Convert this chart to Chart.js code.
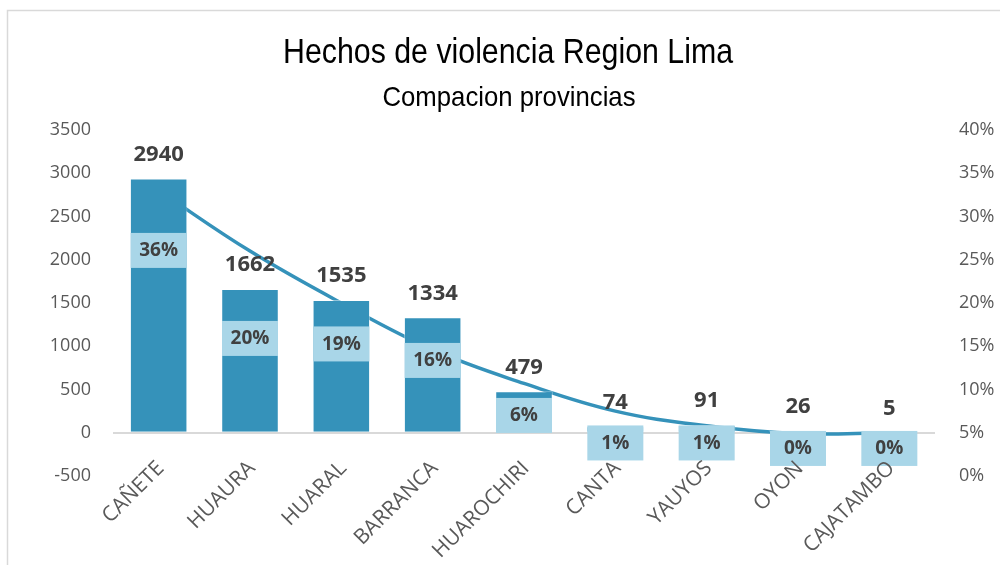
<!DOCTYPE html>
<html lang="es">
<head>
  <meta charset="UTF-8" />
  <title>Hechos de violencia Region Lima</title>
  <script src="https://cdn.jsdelivr.net/npm/chart.js"></script>
  <style>
    body { margin: 0; background: #fff; }
    canvas { display: block; }
  </style>
</head>
<body>
  <canvas id="chart" width="1000" height="565"></canvas>

  <script>
    // data
    const provincias = ['CAÑETE', 'HUAURA', 'HUARAL', 'BARRANCA', 'HUAROCHIRI', 'CANTA', 'YAUYOS', 'OYON', 'CAJATAMBO'];
    const hechos = [2940, 1662, 1535, 1334, 479, 74, 91, 26, 5];
    const porcentaje = [36, 20, 19, 16, 6, 1, 1, 0, 0];
    const tendencia = [33, 26, 20, 14.6, 10.7, 7.5, 5.8, 4.9, 5.0];

    const titulo = 'Hechos de violencia Region Lima';
    const subtitulo = 'Compacion provincias';

    const azul = '#3592ba';
    const celeste = '#a9d6e8';
    const texto = '#404040';
    const gris = '#595959';
    const font = '"Open Sans", "DejaVu Sans", sans-serif';

    // narrow-looking title: Liberation Sans squeezed to the reference width
    function narrowText(ctx, str, cx, cy, size, width) {
      ctx.font = size + 'px "Liberation Sans", Arial, sans-serif';
      const w = ctx.measureText(str).width;
      ctx.save();
      ctx.translate(cx, cy);
      ctx.scale(width / w, 1);
      ctx.fillText(str, 0, 0);
      ctx.restore();
    }

    const drawExtras = {
      id: 'drawExtras',
      beforeDraw(chart) {
        const ctx = chart.ctx;
        ctx.save();
        ctx.strokeStyle = '#d9d9d9';
        ctx.lineWidth = 1.5;
        ctx.strokeRect(7.5, 10.5, 1100, 700);
        ctx.fillStyle = '#000';
        ctx.textAlign = 'center';
        ctx.textBaseline = 'middle';
        narrowText(ctx, titulo, 508, 53, 35, 450);
        narrowText(ctx, subtitulo, 509, 98, 28, 253);
        ctx.restore();
      },
      afterDatasetsDraw(chart) {
        const ctx = chart.ctx;
        const x = chart.scales.x;
        const y = chart.scales.y;
        const yl = chart.scales.yl;
        ctx.save();
        // bar values
        ctx.fillStyle = texto;
        ctx.textAlign = 'center';
        ctx.textBaseline = 'middle';
        ctx.font = 'bold 22px ' + font;
        hechos.forEach((v, i) => {
          ctx.fillText(v, x.getPixelForValue(i), y.getPixelForValue(v) - 24);
        });
        // percent boxes
        ctx.font = 'bold 19px ' + font;
        porcentaje.forEach((p, i) => {
          const cx = x.getPixelForValue(i);
          const cy = yl.getPixelForValue(p);
          ctx.fillStyle = celeste;
          ctx.fillRect(cx - 28, cy - 17, 56, 35);
          ctx.fillStyle = texto;
          ctx.fillText(p + '%', cx, cy + 1);
        });
        // category labels, rotated
        ctx.fillStyle = gris;
        ctx.font = '21px ' + font;
        ctx.textAlign = 'right';
        provincias.forEach((c, i) => {
          ctx.save();
          ctx.translate(x.getPixelForValue(i) + 2, 465);
          ctx.rotate(-Math.PI / 4);
          ctx.fillText(c, 0, 0);
          ctx.restore();
        });
        ctx.restore();
      }
    };

    new Chart(document.getElementById('chart'), {
      type: 'bar',
      data: {
        labels: provincias,
        datasets: [
          {
            type: 'bar',
            label: 'Hechos',
            data: hechos,
            backgroundColor: azul,
            borderColor: 'rgba(255,255,255,0.45)',
            borderWidth: 1,
            barPercentage: 0.63,
            categoryPercentage: 1,
            yAxisID: 'y',
            order: 1
          },
          {
            type: 'line',
            label: 'Tendencia',
            data: tendencia,
            borderColor: azul,
            borderWidth: 3.5,
            pointRadius: 0,
            tension: 0.4,
            fill: false,
            yAxisID: 'y1',
            order: 2
          }
        ]
      },
      options: {
        responsive: false,
        animation: false,
        layout: { padding: { top: 130, bottom: 89, left: 0, right: 0 } },
        plugins: {
          legend: { display: false },
          tooltip: { enabled: false }
        },
        scales: {
          x: {
            display: false,
            offset: true,
            grid: { display: false }
          },
          y: {
            position: 'left',
            min: -500,
            max: 3500,
            border: { display: false },
            grid: {
              drawTicks: false,
              lineWidth: 2,
              color: (c) => c.tick && c.tick.value === 0 ? '#d9d9d9' : 'transparent'
            },
            ticks: {
              stepSize: 500,
              padding: 22,
              color: gris,
              font: { family: font, size: 18 },
              callback: (v) => String(v)
            },
            afterFit(scale) { scale.width = 113; }
          },
          y1: {
            position: 'right',
            min: 0,
            max: 40,
            border: { display: false },
            grid: { display: false, drawTicks: false },
            ticks: {
              stepSize: 5,
              padding: 24,
              color: gris,
              font: { family: font, size: 18 },
              callback: (v) => v + '%'
            },
            afterFit(scale) { scale.width = 65; }
          },
          yl: {
            display: false,
            min: -5.1,
            max: 57.8
          }
        }
      },
      plugins: [drawExtras]
    });
  </script>
</body>
</html>
